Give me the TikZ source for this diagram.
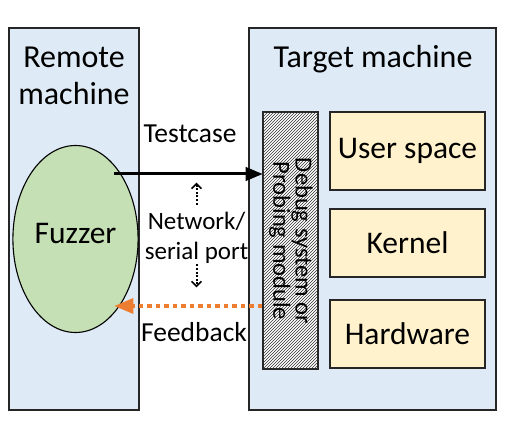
\documentclass[tikz,border=0pt]{standalone}
\usepackage{fontspec}
\setmainfont{Carlito}
\usetikzlibrary{arrows,arrows.meta,patterns,shapes.geometric}
\definecolor{paleblue}{RGB}{222,235,247}
\definecolor{palegreen}{RGB}{197,224,180}
\definecolor{paleyellow}{RGB}{255,242,204}
\definecolor{carrot}{RGB}{237,125,49}

\begin{document}
\begin{tikzpicture}[x=10pt, y=10pt,
        machine/.style={draw=black!85, fill=paleblue, line width=1.1pt, inner sep=0pt, minimum height=382pt},
        layer/.style={draw=black!85, fill=paleyellow, line width=1.1pt, inner sep=0pt, minimum width=155pt, font=\fontsize{31.5}{33}\selectfont},
        title/.style={align=center, font=\fontsize{32}{37}\selectfont},
        linklabel/.style={align=center, font=\fontsize{27.5}{29}\selectfont, inner sep=0pt},
        hint/.style={line width=2pt, dash pattern=on 2pt off 1.6pt, -{Straight Barb[length=5pt, width=10pt, line width=1.6pt]}}]
            \useasboundingbox                                             (0.00, 0.00) rectangle (51.50, 43.70);
            \node[machine, minimum width=130pt] (remote)                  at ( 7.40, 21.80) {};
            \node[machine, minimum width=247pt] (target)                  at (37.25, 21.80) {};
            \node[title] (remotetitle)                                    at ( 7.40, 36.10) {Remote\\machine};
            \node[title] (targettitle)                                    at (37.30, 37.80) {Target machine};
            \node[draw=black!85, line width=1.1pt, fill=white, inner sep=0pt, minimum width=55pt, minimum height=257pt,
                  postaction={pattern=north east lines, pattern color=black!80}] (debug) at (29.05, 19.65) {};
            \node[rotate=-90, align=center, font=\fontsize{24.5}{17}\selectfont] (probe) at (29.10, 19.60)
                 {Debug system or\\Probing module};
            \node[layer, minimum height=78pt] (user)                      at (40.75, 28.60) {User space};
            \node[layer, minimum height=68pt] (kernel)                    at (40.75, 19.40) {Kernel};
            \node[layer, minimum height=68pt] (hardware)                  at (40.75, 10.30) {Hardware};
            \node[ellipse, draw=black, fill=palegreen, line width=1.1pt, minimum width=109pt, minimum height=187pt,
                  font=\fontsize{31.5}{33}\selectfont, text depth=12pt] (fuzzer) at ( 7.55, 19.80) {Fuzzer};
            \coordinate (testout)                                         at (11.40, 26.30);
            \coordinate (feedin)                                          at (11.45, 13.10);
            \draw[line width=3pt, -triangle 45]                           (testout) -- (debug.west |- testout);
            \draw[carrot, line width=3.5pt, dash pattern=on 4.5pt off 4pt, -triangle 45] (debug.west |- feedin) -- (feedin);
            \node[linklabel] (testcase)                                   at (19.00, 30.30) {Testcase};
            \node[linklabel, font=\fontsize{25}{30}\selectfont] (network) at (19.65, 19.95) {Network/\\serial port};
            \node[linklabel] (feedback)                                   at (19.40, 10.50) {Feedback};
            \draw[hint]                                                   ([yshift=7pt]network.north) -- ++(0, 2.20);
            \draw[hint]                                                   ([yshift=-1pt]network.south) -- ++(0,-2.30);
\end{tikzpicture}
\end{document}
